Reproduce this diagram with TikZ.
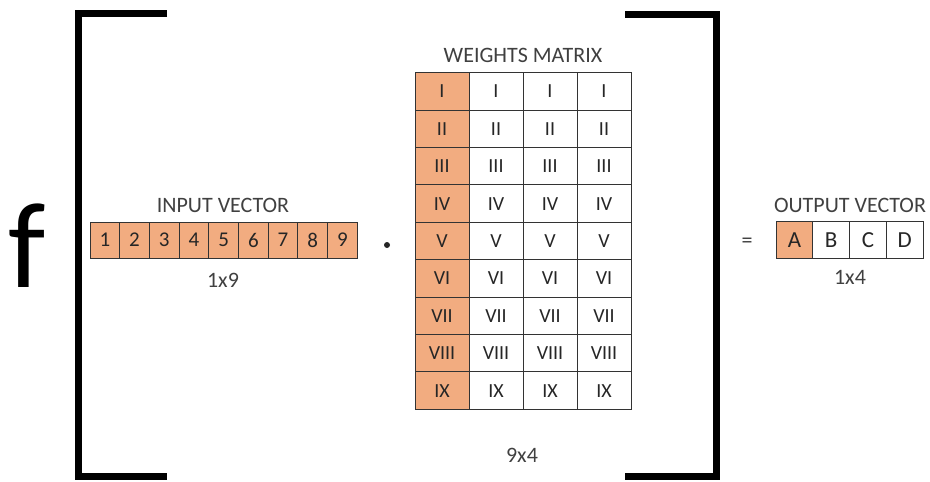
\documentclass[tikz,border=0pt]{standalone}
\usepackage{fontspec}
\setmainfont{Carlito}
\usetikzlibrary{positioning}
\definecolor{peach}{RGB}{242,172,128}
\definecolor{textgray}{RGB}{64,64,64}

\begin{document}
\begin{tikzpicture}[x=1pt,y=-1pt,
    cell node/.style={rectangle,draw=black!80,line width=1pt,inner sep=0pt,outer sep=0pt,text=black!85,font=\fontsize{20}{20}\selectfont},
    in node/.style={cell node,fill=peach,minimum width=29.7pt,minimum height=36pt,font=\fontsize{21}{21}\selectfont},
    w node/.style={cell node,minimum width=54pt,minimum height=37.4pt},
    out node/.style={cell node,minimum width=36.75pt,minimum height=37pt,font=\fontsize{23}{23}\selectfont},
    label node/.style={text=textgray,font=\fontsize{22}{22}\selectfont},
    bracket/.style={line width=7pt,line join=miter}]
  \useasboundingbox (0,0) rectangle (930,482);
  \begin{scope}
    \node[font=\fontsize{122}{122}\selectfont,inner sep=0pt,anchor=base] (f) at (27,287) {f};
    \draw[bracket] (167,13.5) -| (78,476) -- (167,476);
    \draw[bracket] (625,14) -| (716,476) -- (625,476);
    % input vector
    \node[label node] (inlabel) at (223,205) {INPUT VECTOR};
    \node[in node] (i1) at (104.85,240) {1};
    \node[in node,right=0pt of i1] (i2) {2};
    \node[in node,right=0pt of i2] (i3) {3};
    \node[in node,right=0pt of i3] (i4) {4};
    \node[in node,right=0pt of i4] (i5) {5};
    \node[in node,right=0pt of i5] (i6) {6};
    \node[in node,right=0pt of i6] (i7) {7};
    \node[in node,right=0pt of i7] (i8) {8};
    \node[in node,right=0pt of i8] (i9) {9};
    \node[label node] (insize) at (223,280) {1x9};
    \node[circle,fill=black!85,inner sep=0pt,minimum size=6pt] (dot) at (387,245) {};
    % weights matrix
    \node[label node] (wlabel) at (523,55) {WEIGHTS MATRIX};
    \foreach \n [count=\r] in {I,II,III,IV,V,VI,VII,VIII,IX} {
      \node[w node,fill=peach] (w\r1) at (442,{54+37.4*\r}) {\n};
      \node[w node,right=0pt of w\r1] (w\r2) {\n};
      \node[w node,right=0pt of w\r2] (w\r3) {\n};
      \node[w node,right=0pt of w\r3] (w\r4) {\n};
    }
    \node[label node] (wsize) at (522,455) {9x4};
    % output vector
    \node[label node] (eq) at (747,243) {=};
    \node[label node] (outlabel) at (850,205) {OUTPUT VECTOR};
    \node[out node,fill=peach] (a) at (794.4,240) {A};
    \node[out node,right=0pt of a] (b) {B};
    \node[out node,right=0pt of b] (c) {C};
    \node[out node,right=0pt of c] (d) {D};
    \node[label node] (outsize) at (850,277) {1x4};
  \end{scope}
\end{tikzpicture}
\end{document}
